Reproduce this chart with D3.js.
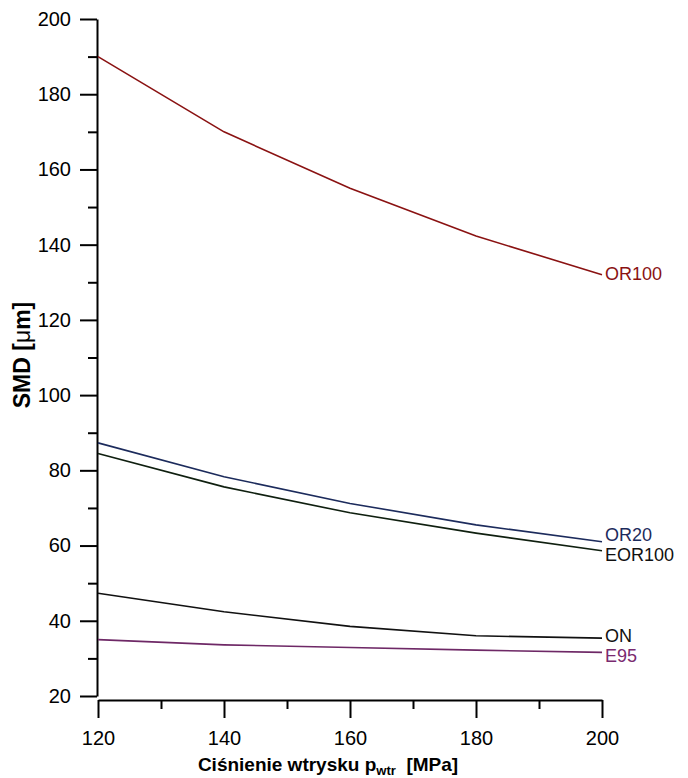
<!DOCTYPE html>
<html>
<head>
<meta charset="utf-8">
<script src="https://cdn.jsdelivr.net/npm/d3@7/dist/d3.min.js"></script>
<style>
  body { margin: 0; background: #fff; }
  svg text { font-family: Arial, "Liberation Sans", sans-serif; }
</style>
</head>
<body>
<div id="chart"></div>
<script>
// SMD vs injection pressure, five fuels
const pressures = [120, 140, 160, 180, 200];
const seriesNames = ['OR100', 'OR20', 'EOR100', 'ON', 'E95'];
const smdOR100 = [190, 170, 155, 142.3, 132];
const smdOR20 = [87.3, 78.3, 71.2, 65.5, 61];
const smdEOR100 = [84.5, 75.6, 68.7, 63.3, 58.6];
const smdON = [47.3, 42.4, 38.5, 36, 35.4];
const smdE95 = [35, 33.6, 32.9, 32.2, 31.6];
const yTicks = [20, 40, 60, 80, 100, 120, 140, 160, 180, 200];
const xTicks = [120, 140, 160, 180, 200];

const values = [smdOR100, smdOR20, smdEOR100, smdON, smdE95];
const colors = ['#8a1212', '#1c2b5c', '#0f1f0f', '#111111', '#6e2866'];
const labelColors = ['#8a1212', '#1c2b5c', '#111111', '#111111', '#7a2a70'];
const labelShift = [-1, -7, 4, -2, 3]; // spread overlapping end labels

const width = 688, height = 778;
const svg = d3.select('#chart').append('svg')
    .attr('width', width).attr('height', height);

const x = d3.scaleLinear().domain([120, 200]).range([98, 602]);
const y = d3.scaleLinear().domain([20, 200]).range([696, 19]);

// Y axis: major + minor ticks
svg.append('g')
    .attr('transform', 'translate(97,0)')
    .call(d3.axisLeft(y).tickValues(d3.range(30, 200, 20)).tickSize(9).tickFormat(''))
    .call(g => g.select('.domain').remove())
    .call(g => g.selectAll('line').attr('stroke', '#000').attr('stroke-width', 2));

svg.append('g')
    .attr('transform', 'translate(97,0)')
    .call(d3.axisLeft(y).tickValues(yTicks).tickSize(17).tickSizeOuter(0).tickPadding(9))
    .call(g => g.select('.domain').attr('stroke', '#000').attr('stroke-width', 2))
    .call(g => g.selectAll('line').attr('stroke', '#000').attr('stroke-width', 2))
    .call(g => g.selectAll('text').attr('font-size', '20px').attr('fill', '#000'));

// X axis sits a few px below the y-axis end
const xAxisY = y(20) + 4;
svg.append('g')
    .attr('transform', `translate(0,${xAxisY})`)
    .call(d3.axisBottom(x).tickValues([130, 150, 170, 190]).tickSize(9).tickFormat(''))
    .call(g => g.select('.domain').remove())
    .call(g => g.selectAll('line').attr('stroke', '#000').attr('stroke-width', 2));

svg.append('g')
    .attr('transform', `translate(0,${xAxisY})`)
    .call(d3.axisBottom(x).tickValues(xTicks).tickSize(18).tickSizeOuter(0).tickPadding(13))
    .call(g => g.select('.domain').attr('stroke', '#000').attr('stroke-width', 2))
    .call(g => g.selectAll('line').attr('stroke', '#000').attr('stroke-width', 2))
    .call(g => g.selectAll('text').attr('font-size', '20px').attr('fill', '#000'));

// Series lines
const line = d3.line()
    .x((d, i) => x(pressures[i]))
    .y(d => y(d));

values.forEach((vals, k) => {
    svg.append('path').datum(vals)
        .attr('fill', 'none')
        .attr('stroke', colors[k])
        .attr('stroke-width', 1.6)
        .attr('d', line);

    svg.append('text')
        .attr('x', x(200) + 3)
        .attr('y', y(vals[vals.length - 1]) + labelShift[k])
        .attr('dy', '0.35em')
        .attr('font-size', '18px')
        .attr('fill', labelColors[k])
        .text(seriesNames[k]);
});

// Axis titles
const xTitle = svg.append('text')
    .attr('x', 328).attr('y', 771)
    .attr('text-anchor', 'middle')
    .attr('font-size', '19px').attr('font-weight', 'bold');
xTitle.append('tspan').text('Ciśnienie wtrysku p');
xTitle.append('tspan').attr('dy', 4).attr('font-size', '13px').text('wtr');
xTitle.append('tspan').attr('dy', -4).text('\u00a0 [MPa]');

const yTitle = svg.append('text')
    .attr('transform', 'translate(30,355) rotate(-90)')
    .attr('text-anchor', 'middle')
    .attr('font-size', '23px').attr('font-weight', 'bold');
yTitle.append('tspan').text('SMD [');
yTitle.append('tspan').attr('font-weight', 'normal').text('μ');
yTitle.append('tspan').text('m]');
</script>
</body>
</html>
